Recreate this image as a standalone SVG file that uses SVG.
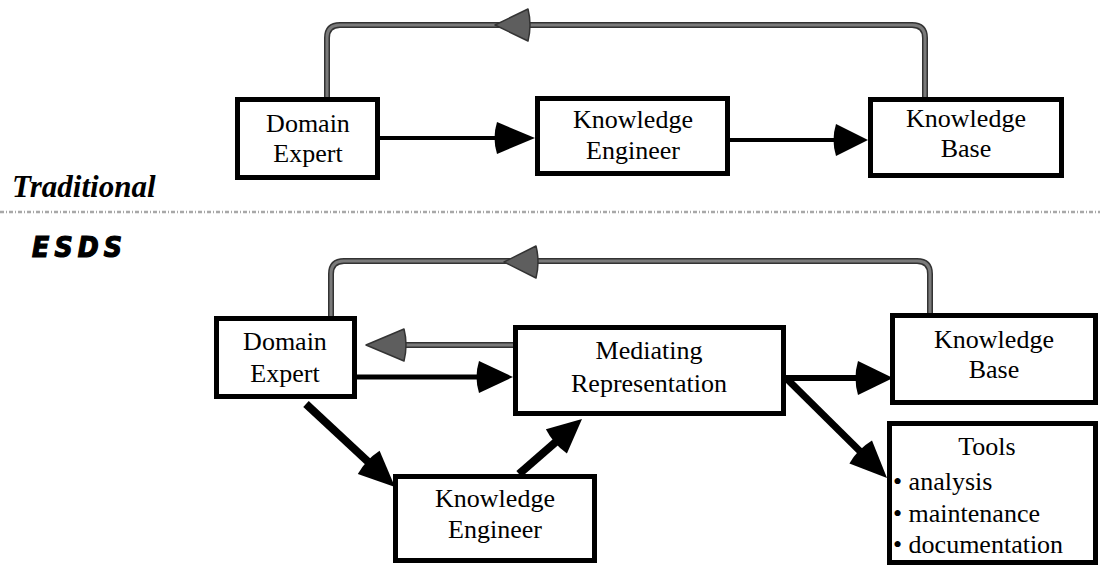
<svg xmlns="http://www.w3.org/2000/svg" width="1100" height="569" viewBox="0 0 1100 569">
<style>
.box{fill:#fff;stroke:#000;stroke-width:5}
.t{font-family:"Liberation Serif","Times New Roman",serif;font-size:26px;fill:#000;text-anchor:middle}
.tl{font-family:"Liberation Serif","Times New Roman",serif;font-size:26px;fill:#000}
.blk{stroke:#000;fill:none}
.go{stroke:#333;fill:none;stroke-width:6}
.gi{stroke:#7a7a7a;fill:none;stroke-width:3}
.hb{fill:#000}
.hg{fill:#5e5e5e;stroke:#333;stroke-width:1.5;stroke-linejoin:round}
</style>
<rect width="1100" height="569" fill="#fff"/>
<g id="section-labels">
<text x="12" y="197" font-family="Liberation Serif,serif" font-size="31" font-weight="bold" font-style="italic">Traditional</text>
<line x1="0" y1="212" x2="1100" y2="212" stroke="#a8a8a8" stroke-width="2.5" stroke-dasharray="4 2 1 2"/>
<text x="32" y="257" font-family="DejaVu Sans Condensed,DejaVu Sans,sans-serif" font-size="28" font-weight="bold" font-style="italic" stroke="#000" stroke-width="1.2" textLength="90" lengthAdjust="spacing">ESDS</text>
</g>
<g id="connectors">
<path class="go" d="M925,97 V38 Q925,25 912,25 H340 Q327,25 327,38 V98"/>
<path class="gi" d="M925,97 V38 Q925,25 912,25 H340 Q327,25 327,38 V98"/>
<path class="hg" d="M495,25 L528,9 Q532,25 528,41 Z"/>
<line class="blk" stroke-width="4" x1="380" y1="138" x2="500" y2="138"/>
<path class="hb" d="M535,138 L497,122 Q492,138 497,154 Z"/>
<line class="blk" stroke-width="4" x1="730" y1="140" x2="839" y2="140"/>
<path class="hb" d="M868,140 L836,124 Q831,140 836,156 Z"/>
<path class="go" d="M930,313 V274 Q930,261 917,261 H344 Q331,261 331,274 V316"/>
<path class="gi" d="M930,313 V274 Q930,261 917,261 H344 Q331,261 331,274 V316"/>
<path class="hg" d="M504,262 L536,246 Q540,262 536,278 Z"/>
<line class="go" x1="513" y1="345" x2="401" y2="345"/>
<line class="gi" x1="513" y1="345" x2="401" y2="345"/>
<path class="hg" d="M366,345 L404,329 Q408,345 404,361 Z"/>
<line class="blk" stroke-width="5" x1="357" y1="377" x2="482" y2="377"/>
<path class="hb" d="M513,377 L479,361 Q474,377 479,393 Z"/>
<line class="blk" stroke-width="6" x1="786" y1="378" x2="861" y2="378"/>
<path class="hb" d="M893,378 L858,361 Q853,378 858,395 Z"/>
<line class="blk" stroke-width="8" x1="306" y1="404" x2="370.9" y2="464.4"/>
<path class="hb" d="M395,487 L357.8,474.1 Q365.8,459.7 379.6,450.7 Z"/>
<line class="blk" stroke-width="8" x1="519" y1="474" x2="558.6" y2="439.4"/>
<path class="hb" d="M582,419 L566.9,453.5 Q553.4,444 545.9,429.3 Z"/>
<line class="blk" stroke-width="7" x1="786" y1="378" x2="862.8" y2="454.1"/>
<path class="hb" d="M887,478 L849.4,463.4 Q857.9,449.2 872,440.6 Z"/>
</g>
<g id="top-domain-expert">
<rect class="box" x="237.5" y="99.5" width="140" height="78"/>
<text class="t" x="308" y="132">Domain</text>
<text class="t" x="308" y="162">Expert</text>
</g>
<g id="top-knowledge-engineer">
<rect class="box" x="537.5" y="98.5" width="190" height="75"/>
<text class="t" x="633" y="128">Knowledge</text>
<text class="t" x="633" y="159">Engineer</text>
</g>
<g id="top-knowledge-base">
<rect class="box" x="870.5" y="99.5" width="191" height="76"/>
<text class="t" x="966" y="127">Knowledge</text>
<text class="t" x="966" y="157">Base</text>
</g>
<g id="domain-expert">
<rect class="box" x="216.5" y="318.5" width="138" height="78"/>
<text class="t" x="285" y="350">Domain</text>
<text class="t" x="285" y="382">Expert</text>
</g>
<g id="mediating-representation">
<rect class="box" x="515.5" y="327.5" width="268" height="86"/>
<text class="t" x="649" y="359">Mediating</text>
<text class="t" x="649" y="392">Representation</text>
</g>
<g id="knowledge-engineer">
<rect class="box" x="395.5" y="476.5" width="199" height="84"/>
<text class="t" x="495" y="507">Knowledge</text>
<text class="t" x="495" y="538">Engineer</text>
</g>
<g id="knowledge-base">
<rect class="box" x="892.5" y="315.5" width="203" height="87"/>
<text class="t" x="994" y="348">Knowledge</text>
<text class="t" x="994" y="378">Base</text>
</g>
<g id="tools">
<rect class="box" x="889.5" y="423.5" width="206" height="139"/>
<text class="t" x="987" y="455">Tools</text>
<text class="tl" x="893" y="490">• analysis</text>
<text class="tl" x="893" y="522">• maintenance</text>
<text class="tl" x="893" y="553">• documentation</text>
</g>
</svg>
